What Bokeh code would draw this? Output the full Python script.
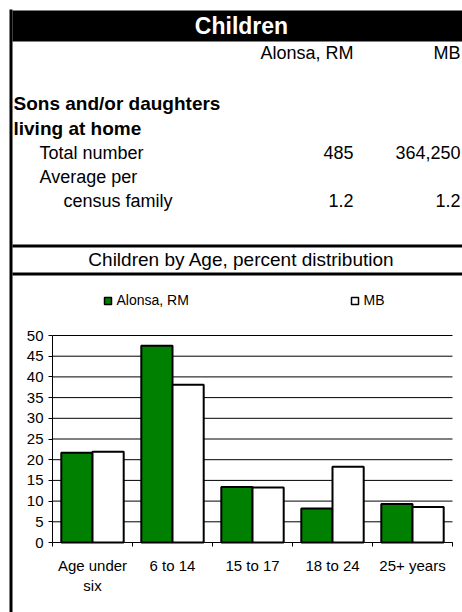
from bokeh.plotting import figure
from bokeh.models import Range1d, LinearAxis, FixedTicker, ColumnDataSource
from bokeh.core.properties import value
from bokeh.embed import file_html
from bokeh.resources import INLINE

FONT = "Liberation Sans"

# ---------------- data ----------------
header_title = "Children"
col_headers = ["Alonsa, RM", "MB"]
section_lines = ["Sons and/or daughters", "living at home"]
row_labels = ["Total number", "Average per", "census family"]
total_number = ["485", "364,250"]
avg_per_family = ["1.2", "1.2"]
chart_title = "Children by Age, percent distribution"
categories = ["Age under\nsix", "6 to 14", "15 to 17", "18 to 24", "25+ years"]
alonsa = [21.7, 47.5, 13.4, 8.2, 9.3]
mb = [21.9, 38.1, 13.3, 18.3, 8.6]
series_names = ["Alonsa, RM", "MB"]
series_colors = ["#008000", "#ffffff"]
y_ticks = [0, 5, 10, 15, 20, 25, 30, 35, 40, 45, 50]

# ---------------- page geometry (pixels) ----------------
PX0, PX1, PY0, PY1 = 0, 462, 0, 612          # figure area on the page
CH_LEFT, CH_RIGHT, CH_ZERO, CH_TOP = 52, 452, 542, 335
Y_MAX = 50
n = len(categories)
px_per_cat = (CH_RIGHT - CH_LEFT) / n
px_per_unit = (CH_ZERO - CH_TOP) / Y_MAX

p = figure(width=PX1 - PX0, height=PY1 - PY0,
           x_range=Range1d(PX0, PX1), y_range=Range1d(PY1, PY0),
           output_backend="svg", toolbar_location=None, min_border=0,
           x_axis_location=None, y_axis_location=None, outline_line_color=None)
p.grid.visible = False

# chart coordinate system mapped onto the chart area
p.extra_x_ranges = {"cx": Range1d(-(CH_LEFT - PX0) / px_per_cat, n + (PX1 - CH_RIGHT) / px_per_cat)}
p.extra_y_ranges = {"py": Range1d(-(PY1 - CH_ZERO) / px_per_unit, Y_MAX + (CH_TOP - PY0) / px_per_unit)}

# ---------------- frame pieces ----------------
p.quad(left=[9], right=[12], top=[9], bottom=[PY1], fill_color="black", line_color=None)
p.quad(left=[12], right=[PX1], top=[10], bottom=[41], fill_color="black", line_color=None)
p.quad(left=[12, 12], right=[PX1, PX1], top=[244, 272], bottom=[247, 275],
       fill_color="black", line_color=None)

# ---------------- header / table ----------------
p.text(x=[241], y=[25], text=[header_title], text_align="center", text_baseline="alphabetic",
       text_font=value(FONT), text_font_style="bold", text_font_size="23px", text_color="white")

col_right = [353, 460]
p.text(x=col_right, y=[52, 52], text=col_headers, text_align="right", text_baseline="alphabetic",
       text_font=value(FONT), text_font_size="18px", text_color="black")
p.text(x=[13, 13], y=[103, 128], text=section_lines, text_align="left", text_baseline="alphabetic",
       text_font=value(FONT), text_font_style="bold", text_font_size="19px", text_color="black")
p.text(x=[39, 39, 63], y=[152, 176, 200], text=row_labels, text_align="left",
       text_baseline="alphabetic", text_font=value(FONT), text_font_size="18px", text_color="black")
p.text(x=col_right, y=[152, 152], text=total_number, text_align="right", text_baseline="alphabetic",
       text_font=value(FONT), text_font_size="18px", text_color="black")
p.text(x=col_right, y=[200, 200], text=avg_per_family, text_align="right", text_baseline="alphabetic",
       text_font=value(FONT), text_font_size="18px", text_color="black")

p.text(x=[241], y=[259], text=[chart_title], text_align="center", text_baseline="alphabetic",
       text_font=value(FONT), text_font_size="19px", text_color="black")

# legend
leg_x = [104, 351]
p.quad(left=leg_x, right=[x + 7 for x in leg_x], top=[297, 297], bottom=[304, 304],
       fill_color=series_colors, line_color="black", line_width=1.5)
p.text(x=[x + 12 for x in leg_x], y=[299, 299], text=series_names, text_align="left",
       text_baseline="alphabetic", text_font=value(FONT), text_font_size="14px", text_color="black")

# ---------------- bar chart ----------------
centers = [i + 0.5 for i in range(n)]
bar_w = 0.39
src = ColumnDataSource(dict(
    x_a=[c - bar_w / 2 for c in centers], x_b=[c + bar_w / 2 for c in centers],
    alonsa=alonsa, mb=mb))

# horizontal gridlines
p.segment(x0=[0] * len(y_ticks), x1=[n] * len(y_ticks), y0=y_ticks, y1=y_ticks,
          line_color="black", line_width=1, x_range_name="cx", y_range_name="py")

p.vbar(x="x_a", top="alonsa", width=bar_w, source=src, x_range_name="cx", y_range_name="py",
       fill_color=series_colors[0], line_color="black", line_width=2)
p.vbar(x="x_b", top="mb", width=bar_w, source=src, x_range_name="cx", y_range_name="py",
       fill_color=series_colors[1], line_color="black", line_width=2)

yax = LinearAxis(x_range_name="cx", y_range_name="py", fixed_location=0, bounds=(0, Y_MAX),
                 ticker=FixedTicker(ticks=y_ticks), minor_tick_line_color=None,
                 major_tick_in=0, major_tick_out=4, major_label_standoff=5,
                 axis_line_color="black", major_tick_line_color="black",
                 major_label_text_font=FONT, major_label_text_font_size="15px",
                 major_label_text_color="black")
p.add_layout(yax, "left")

edge_ticks = list(range(n + 1))
tick_axis = LinearAxis(x_range_name="cx", y_range_name="py", fixed_location=0, bounds=(0, n),
                       ticker=FixedTicker(ticks=edge_ticks),
                       major_label_overrides={t: "" for t in edge_ticks},
                       major_tick_in=0, major_tick_out=4, major_label_standoff=0,
                       minor_tick_line_color=None, axis_line_color="black",
                       major_tick_line_color="black")
label_axis = LinearAxis(x_range_name="cx", y_range_name="py", fixed_location=0, bounds=(0, n),
                        ticker=FixedTicker(ticks=centers),
                        major_label_overrides={c: lab for c, lab in zip(centers, categories)},
                        major_tick_in=0, major_tick_out=0, major_tick_line_color=None,
                        minor_tick_line_color=None, axis_line_color=None,
                        major_label_standoff=14, major_label_text_font=FONT,
                        major_label_text_font_size="15px", major_label_text_color="black")
p.add_layout(tick_axis, "below")
p.add_layout(label_axis, "below")

open("out.html", "w").write(file_html(p, INLINE))
